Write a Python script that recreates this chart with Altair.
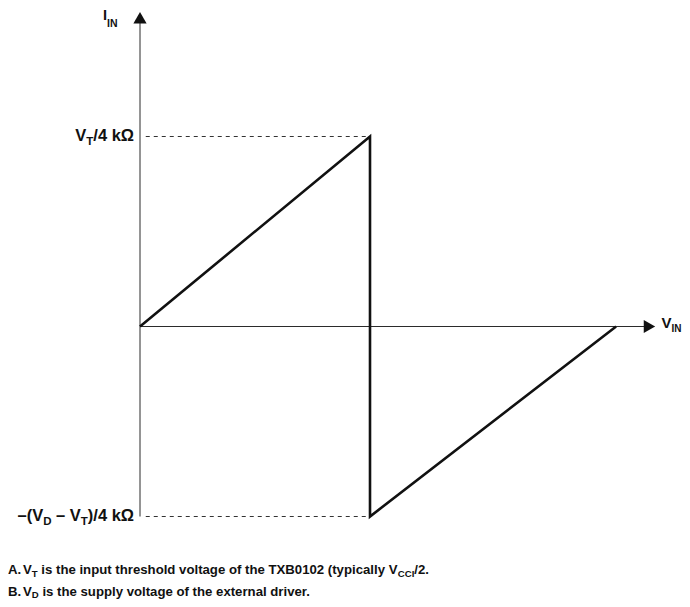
import altair as alt
import pandas as pd

# ---------------- values ----------------
wave_vin = [0.0, 1.0, 1.0, 2.07]      # V_IN, in units of V_T
wave_iin = [0.0, 1.0, -1.0, 0.0]      # I_IN, normalised (+1 = V_T/4 kΩ, -1 = -(V_D-V_T)/4 kΩ)
level_values = [1.0, -1.0]
level_texts = [
    [("V", False), ("T", True), ("/4 kΩ", False)],
    [("–(V", False), ("D", True), (" – V", False), ("T", True), (")/4 kΩ", False)],
]
y_title = [("I", False), ("IN", True)]
x_title = [("V", False), ("IN", True)]
note_marks = ["A.", "B."]
note_texts = [
    [("V", False), ("T", True), (" is the input threshold voltage of the TXB0102 (typically V", False),
     ("CCI", True), ("/2.", False)],
    [("V", False), ("D", True), (" is the supply voltage of the external driver.", False)],
]
x_axis_end = 2.215
y_axis_end = 1.625
guide_start = 0.025

# ---------------- layout ----------------
W, H = 674, 591
PX, PY = 230.0, 190.0          # pixels per data unit
X0, Y0 = 132.0, 318.5          # plot-pixel position of the origin
xs = alt.Scale(domain=[-X0 / PX, (W - X0) / PX], nice=False, zero=False)
ys = alt.Scale(domain=[-(H - Y0) / PY, Y0 / PY], nice=False, zero=False)

AB = {' ': 278, '.': 278, '(': 333, ')': 333, '/': 278, '–': 556, 'Ω': 768,
      'A': 722, 'B': 722, 'C': 722, 'D': 722, 'E': 667, 'F': 611, 'G': 778, 'H': 722, 'I': 278,
      'J': 556, 'K': 722, 'L': 611, 'M': 833, 'N': 722, 'O': 778, 'P': 667, 'Q': 778, 'R': 722,
      'S': 667, 'T': 611, 'U': 722, 'V': 667, 'W': 944, 'X': 667, 'Y': 667, 'Z': 611,
      'a': 556, 'b': 611, 'c': 556, 'd': 611, 'e': 556, 'f': 333, 'g': 611, 'h': 611, 'i': 278,
      'j': 278, 'k': 556, 'l': 278, 'm': 889, 'n': 611, 'o': 611, 'p': 611, 'q': 611, 'r': 389,
      's': 556, 't': 333, 'u': 611, 'v': 556, 'w': 778, 'x': 556, 'y': 556, 'z': 500}


def run_width(s, fs, k=1.0):
    return sum(AB.get(c, 556) for c in s) * fs / 1000.0 * k


def lay(segments, start_px, base_px, fs, sfs, sub_dy, k=1.0):
    rows, x = [], start_px
    for s, sub in segments:
        size = sfs if sub else fs
        lead = len(s) - len(s.lstrip(' '))
        xp = x + run_width(' ' * lead, size, k)
        bp = base_px + (sub_dy if sub else 0)
        rows.append(dict(x=(xp - X0) / PX, y=(Y0 - bp) / PY, t=s.strip(), fs=size))
        x += run_width(s, size, k)
    return rows, x - start_px


def total_width(segments, fs, sfs, k=1.0):
    return sum(run_width(s, sfs if sub else fs, k) for s, sub in segments)


LFS, LSFS = 16.5, 11.5
label_rows = []
for val, segs in zip(level_values, level_texts):
    wdt = total_width(segs, LFS, LSFS)
    r, _ = lay(segs, X0 - 6.5 - wdt, Y0 - val * PY + 4.5, LFS, LSFS, 3.5)
    label_rows += r
r, _ = lay(y_title, X0 - 37, Y0 - y_axis_end * PY + 2, 14.5, 10.5, 7)
label_rows += r
r, _ = lay(x_title, X0 + x_axis_end * PX + 12, Y0 + 1.5, 15, 10, 4)
label_rows += r

NFS, NSFS = 13.2, 9.6
note_rows = []
for i, (mk, segs) in enumerate(zip(note_marks, note_texts)):
    base = Y0 + PY + 57.5 + 21.5 * i
    note_rows.append(dict(x=(0 - X0) / PX, y=(Y0 - base) / PY, t=mk, fs=NFS))
    r, _ = lay(segs, 15, base, NFS, NSFS, 2.5)
    note_rows += r

labels_df = pd.DataFrame(label_rows + note_rows)

wave_df = pd.DataFrame({"v": wave_vin, "i": wave_iin, "o": list(range(len(wave_vin)))})
axes_df = pd.DataFrame({"x": [0.0, 0.0], "x2": [0.0, x_axis_end],
                        "y": [min(level_values), 0.0], "y2": [y_axis_end, 0.0]})
guide_df = pd.DataFrame({"x": [guide_start] * 2, "x2": [1.0] * 2, "y": level_values})
arrow_df = pd.DataFrame({"x": [0.0, x_axis_end], "y": [y_axis_end, 0.0],
                         "shape": ["triangle-up", "triangle-right"]})

X = lambda f: alt.X(f, scale=xs, axis=None)
Y = lambda f: alt.Y(f, scale=ys, axis=None)

axes = alt.Chart(axes_df).mark_rule(color="#2b2b2b", strokeWidth=1).encode(
    x=X("x:Q"), x2="x2:Q", y=Y("y:Q"), y2="y2:Q")
guides = alt.Chart(guide_df).mark_rule(color="#333333", strokeWidth=1, strokeDash=[4, 4]).encode(
    x=X("x:Q"), x2="x2:Q", y=Y("y:Q"))
arrows = alt.Chart(arrow_df).mark_point(filled=True, size=175, color="#111111", opacity=1).encode(
    x=X("x:Q"), y=Y("y:Q"), shape=alt.Shape("shape:N", scale=None, legend=None))
wave = alt.Chart(wave_df).mark_line(color="#111111", strokeWidth=2.6, strokeJoin="miter",
                                    strokeCap="butt").encode(
    x=X("v:Q"), y=Y("i:Q"), order="o:Q")
labels = alt.Chart(labels_df).mark_text(align="left", baseline="alphabetic", font="Liberation Sans",
                                        fontWeight="bold", color="#111111").encode(
    x=X("x:Q"), y=Y("y:Q"), text="t:N", size=alt.Size("fs:Q", scale=None, legend=None))

chart = alt.layer(axes, guides, wave, arrows, labels).properties(
    width=W, height=H, padding=0, autosize="none", background="white"
).configure_view(stroke=None)

chart.save("out.html", embed_options={"renderer": "svg", "actions": False})
